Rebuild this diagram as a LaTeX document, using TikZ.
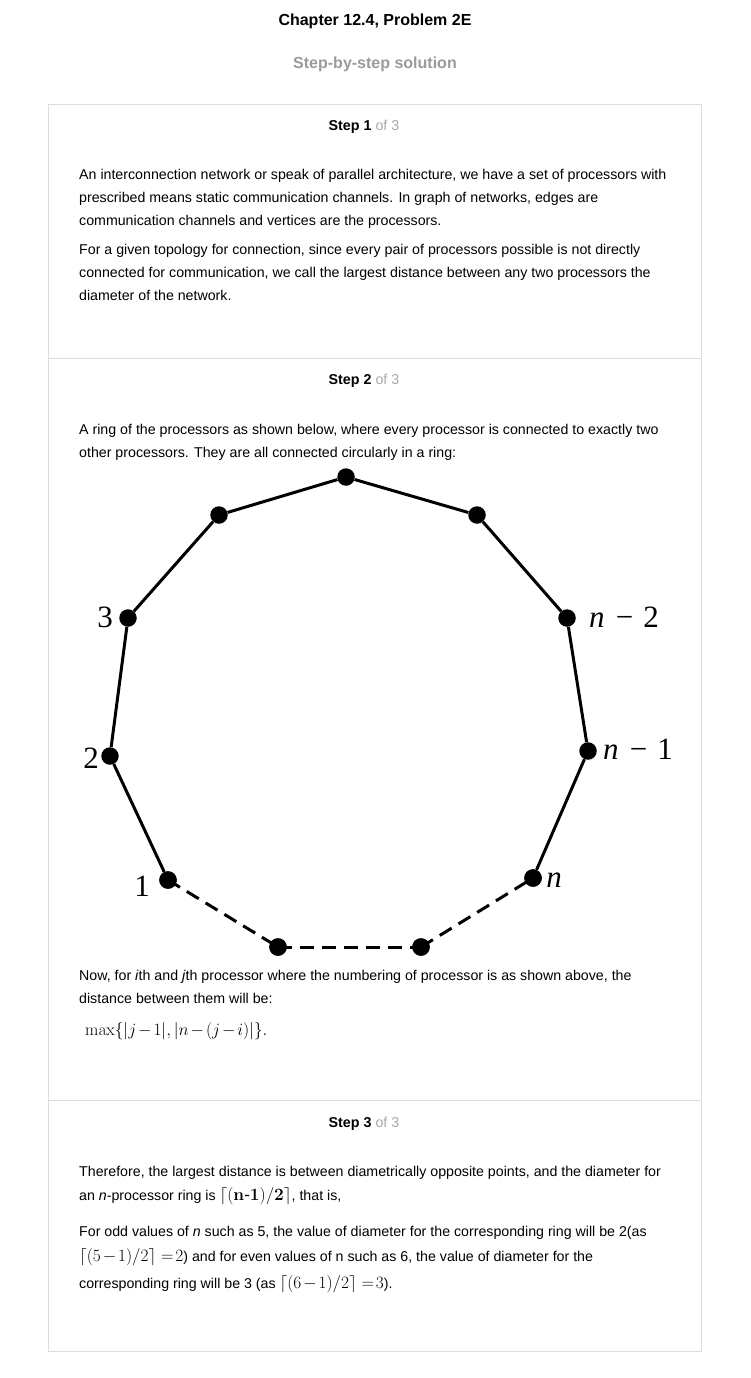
\documentclass[tikz,border=0pt]{standalone}
\usepackage[no-math]{fontspec}
\setmainfont{Liberation Sans}
\newfontfamily\tms{Liberation Serif}
\usepackage{graphicx}
\definecolor{bordergray}{HTML}{DDDDDD}
\definecolor{subgray}{HTML}{9A9A9A}
\definecolor{ofgray}{HTML}{A8A8A8}
\newcommand{\mfs}{\fontsize{17}{19}\selectfont}
\newcommand{\mmin}{\mskip2mu{-}\mskip2mu}
\newcommand{\meq}{\mskip2mu{=}\mskip2mu}
\begin{document}
\begin{tikzpicture}[x=1pt,y=-1pt,
  txt/.style={anchor=base west, inner sep=0pt, font=\fontsize{14.2}{16}\selectfont},
  hdr/.style={anchor=base, inner sep=0pt, font=\fontsize{14.3}{16}\selectfont},
  dot/.style={circle, fill=black, inner sep=0pt, minimum size=17.5pt},
  edge/.style={line width=3pt, black},
  dedge/.style={line width=3pt, black, dash pattern=on 14pt off 8pt},
  lbl/.style={inner sep=0pt, font=\tms\fontsize{31}{33}\selectfont},
  frame/.style={draw=bordergray, line width=1pt}]
\useasboundingbox (0,0) rectangle (751,1378);
% title
\node[anchor=base, inner sep=0pt, font=\bfseries\fontsize{16}{18}\selectfont] (title) at (375,25.5) {Chapter 12.4, Problem 2E};
\node[anchor=base, inner sep=0pt, font=\bfseries\fontsize{16}{18}\selectfont, text=subgray] (sub) at (375,68.5) {Step-by-step solution};
% frame
\draw[frame] (48.5,104.5) rectangle (701.5,1351.5);
\draw[frame] (48.5,358.5) -- (701.5,358.5);
\draw[frame] (48.5,1100.5) -- (701.5,1100.5);
% step 1
\node[hdr] (s1) at (364,131) {\textbf{Step 1} \textcolor{ofgray}{of 3}};
\node[txt] (p1a) at (79,179) {An interconnection network or speak of parallel architecture, we have a set of processors with};
\node[txt] (p1b) at (79,202) {prescribed means static communication channels. In graph of networks, edges are};
\node[txt] (p1c) at (79,225) {communication channels and vertices are the processors.};
\node[txt] (p1d) at (79,254) {For a given topology for connection, since every pair of processors possible is not directly};
\node[txt] (p1e) at (79,277) {connected for communication, we call the largest distance between any two processors the};
\node[txt] (p1f) at (79,300) {diameter of the network.};
% step 2
\node[hdr] (s2) at (364,384) {\textbf{Step 2} \textcolor{ofgray}{of 3}};
\node[txt] (p2a) at (79,434) {A ring of the processors as shown below, where every processor is connected to exactly two};
\node[txt] (p2b) at (79,457) {other processors. They are all connected circularly in a ring:};
% ring
\node[dot] (top) at (346,477) {};
\node[dot] (tl) at (219,515) {};
\node[dot] (tr) at (477,515) {};
\node[dot] (v3) at (128,618) {};
\node[dot] (vn2) at (567,618) {};
\node[dot] (v2) at (110,756) {};
\node[dot] (vn1) at (588,751) {};
\node[dot] (v1) at (168,880) {};
\node[dot] (vn) at (533,878) {};
\node[dot] (bl) at (278,947) {};
\node[dot] (br) at (421,947) {};
\draw[edge] (v1) -- (v2);
\draw[edge] (v2) -- (v3);
\draw[edge] (v3) -- (tl);
\draw[edge] (tl) -- (top);
\draw[edge] (top) -- (tr);
\draw[edge] (tr) -- (vn2);
\draw[edge] (vn2) -- (vn1);
\draw[edge] (vn1) -- (vn);
\draw[dedge] (v1.center) -- (bl.center);
\draw[dedge] (bl.center) -- (br.center);
\draw[dedge] (br.center) -- (vn.center);
\node[dot] at (v1) {};
\node[dot] at (bl) {};
\node[dot] at (br) {};
\node[dot] at (vn) {};
\node[lbl] (l3) at (105,617) {3};
\node[lbl] (l2) at (91,758) {2};
\node[lbl] (l1) at (142,886) {1};
\node[lbl] (ln2) at (624,617) {\itshape n\upshape\hspace{0.36em}−\hspace{0.32em}2};
\node[lbl] (ln1) at (638,749) {\itshape n\upshape\hspace{0.36em}−\hspace{0.32em}1};
\node[lbl] (ln) at (554,880) {\itshape n};
\node[txt] (p2c) at (79,980) {Now, for \textit{i}th and \textit{j}th processor where the numbering of processor is as shown above, the};
\node[txt] (p2d) at (79,1003) {distance between them will be:};
\node[anchor=base west, inner sep=0pt, font=\mfs] (f1) at (85,1035) {$\max\Bigl\{\bigl|j\mmin1\bigr|,\bigl|n\mmin(j\mmin i)\bigr|\Bigr\}.$};
% step 3
\node[hdr] (s3) at (364,1127) {\textbf{Step 3} \textcolor{ofgray}{of 3}};
\node[txt] (p3a) at (79,1176) {Therefore, the largest distance is between diametrically opposite points, and the diameter for};
\node[txt] (p3b) at (79,1200) {an \textit{n}-processor ring is {\mfs$\left\lceil\mathbf{(n\mbox{-}1)/2}\right\rceil$}, that is,};
\node[txt] (p3c) at (79,1236) {For odd values of \textit{n} such as 5, the value of diameter for the corresponding ring will be 2(as};
\node[txt] (p3d) at (79,1261) {{\mfs$\left\lceil(5\mmin1)/2\right\rceil\meq2$}) and for even values of n such as 6, the value of diameter for the};
\node[txt] (p3e) at (79,1288) {corresponding ring will be 3 (as {\mfs$\left\lceil(6\mmin1)/2\right\rceil\meq3$}).};
\end{tikzpicture}
\end{document}
